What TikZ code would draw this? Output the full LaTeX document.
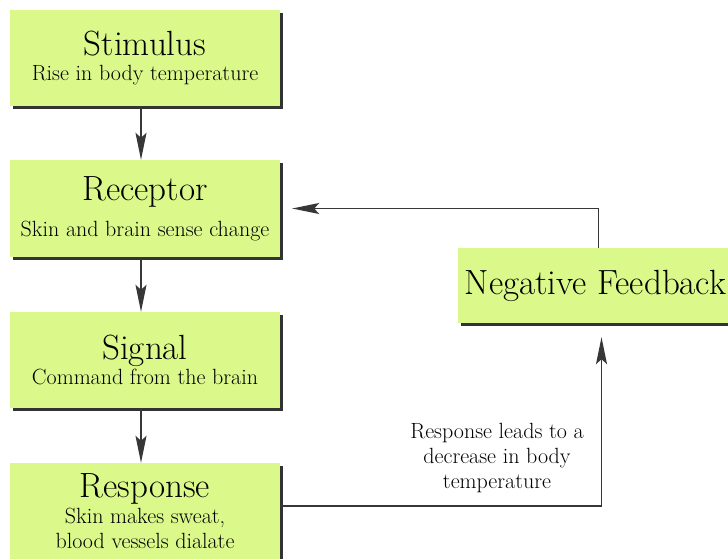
\documentclass[tikz,border=0pt]{standalone}
\usepackage{tikz}
\usetikzlibrary{
    arrows.meta,
    shadows
}
\definecolor{boxgreen}{RGB}{219,249,139}
\definecolor{linegray}{RGB}{55,55,55}
\newcommand{\stagetitle}[1]{{\fontsize{35}{38}\selectfont #1}}

\begin{document}
\begin{tikzpicture}[x=1pt,y=-1pt,>={Stealth[length=27pt,width=11pt,inset=5pt]}]
    \tikzstyle{stage}=[fill=boxgreen, minimum width=270pt, minimum height=96pt, inner sep=0pt, align=center, font=\fontsize{22}{25}\selectfont, drop shadow={shadow xshift=3pt, shadow yshift=-3pt, fill=black!80, opacity=1}]
    \tikzstyle{flow}=[->, draw=linegray, line width=1.5pt]
    \useasboundingbox (0,0) rectangle (728,559);
    \node[stage] (stim) at (145,58) {\stagetitle{Stimulus}\\Rise in body temperature};
    \node[stage, minimum height=97pt] (rec) at (145,208.5) {\stagetitle{Receptor}\\[11pt]Skin and brain sense change};
    \node[stage] (sig) at (145,360) {\stagetitle{Signal}\\Command from the brain};
    \node[stage] (resp) at (145,511) {\stagetitle{Response}\\[1pt]Skin makes sweat,\\blood vessels dialate};
    \node[stage, minimum width=275pt, minimum height=75pt] (nf) at (595.5,285.5) {\stagetitle{Negative Feedback}};
    \node[align=center, font=\fontsize{22}{25}\selectfont] (lbl) at (497,458) {Response leads to a\\decrease in body\\temperature};
    \draw[flow] ([xshift=-4pt]stim.south) -- ([xshift=-4pt]rec.north);
    \draw[flow] ([xshift=-4pt]rec.south) -- ([xshift=-4pt]sig.north);
    \draw[flow] ([xshift=-4pt]sig.south) -- ([xshift=-4pt]resp.north);
    \draw[flow, shorten >=14pt] ([yshift=5pt]resp.east) -| ([xshift=6pt]nf.south);
    \draw[flow, shorten >=12pt] ([xshift=3pt]nf.north) |- (rec.east);
\end{tikzpicture}
\end{document}
